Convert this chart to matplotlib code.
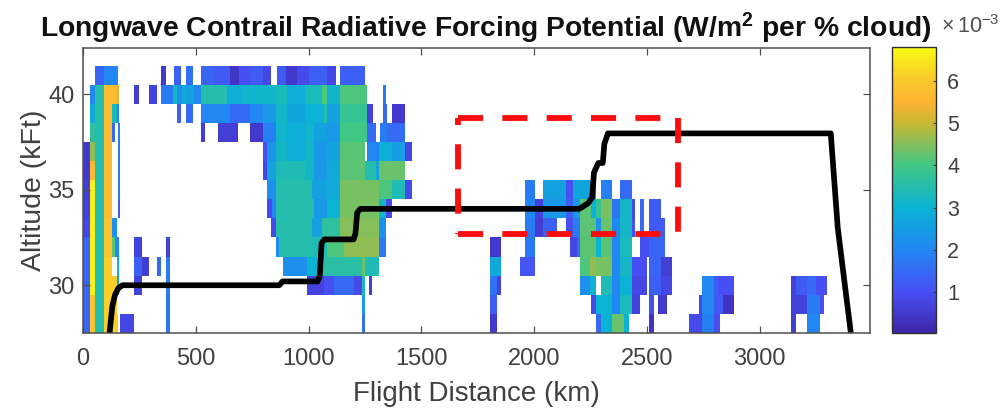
import numpy as np
import matplotlib
matplotlib.use("Agg")
import matplotlib.pyplot as plt
from matplotlib.colors import LinearSegmentedColormap

plt.rcParams["font.family"] = ["Liberation Sans", "DejaVu Sans"]
plt.rcParams["mathtext.fontset"] = "custom"
plt.rcParams["mathtext.bf"] = "Liberation Sans:bold"
plt.rcParams["mathtext.rm"] = "Liberation Sans"

W, H = 1003, 411

# forcing potential, one list per altitude (kft): (from km, to km, value x 1e-3)
row_41 = [(55, 95, 1.4), (95, 155, 2.0), (347, 366, 0.5), (403, 436, 1.3), (458, 489, 1.6),
          (524, 580, 1.4), (580, 654, 1.2), (654, 691, 0.4), (691, 743, 1.0), (743, 800, 1.2),
          (800, 835, 0.8), (860, 900, 1.2), (900, 950, 0.5), (950, 1000, 0.9), (1000, 1080, 1.3),
          (1080, 1120, 0.8), (1140, 1253, 1.3)]
row_40 = [(30, 55, 2.0), (55, 95, 3.5), (95, 150, 5.7), (150, 160, 5.2), (228, 248, 0.6),
          (292, 329, 0.7), (347, 400, 1.8), (400, 418, 3.2), (418, 440, 2.2), (440, 458, 2.8),
          (458, 492, 2.6), (492, 524, 2.0), (524, 640, 3.5), (640, 700, 2.9), (700, 854, 3.1),
          (854, 906, 3.3), (906, 987, 2.9), (987, 1061, 3.3), (1061, 1083, 4.1), (1083, 1140, 3.1),
          (1140, 1258, 4.1), (1330, 1345, 1.8)]
row_39 = [(30, 55, 2.8), (55, 95, 3.5), (95, 130, 5.7), (130, 150, 3.3), (150, 160, 1.8),
          (418, 436, 1.3), (458, 489, 1.5), (524, 650, 2.0), (650, 743, 1.5), (743, 800, 2.0),
          (800, 854, 2.4), (854, 906, 3.2), (906, 987, 2.7), (987, 1068, 3.0), (1068, 1083, 3.5),
          (1083, 1140, 2.6), (1140, 1260, 3.8), (1260, 1285, 0.7), (1330, 1350, 1.5), (1372, 1431, 0.5)]
row_38 = [(30, 55, 3.7), (55, 95, 3.5), (95, 130, 5.7), (130, 145, 1.5), (155, 165, 1.8),
          (524, 543, 0.6), (598, 687, 0.6), (743, 800, 0.5), (800, 854, 1.9), (854, 906, 3.1),
          (906, 987, 2.9), (987, 1024, 3.1), (1024, 1083, 2.6), (1083, 1140, 2.4), (1140, 1260, 4.0),
          (1260, 1298, 1.5), (1316, 1350, 1.8), (1350, 1431, 1.5)]
row_37 = [(0, 33, 0.5), (33, 55, 4.6), (55, 95, 3.5), (95, 130, 5.7), (155, 165, 1.8),
          (799, 817, 1.0), (817, 854, 2.3), (854, 906, 3.2), (906, 987, 2.9), (987, 1024, 3.2),
          (1024, 1083, 2.4), (1083, 1140, 2.6), (1140, 1253, 4.2), (1261, 1312, 2.0),
          (1312, 1372, 2.9), (1372, 1431, 2.5), (1431, 1461, 0.8)]
row_36 = [(0, 33, 0.5), (33, 55, 5.6), (55, 95, 3.5), (95, 130, 5.7), (155, 165, 1.8),
          (799, 817, 0.8), (817, 854, 2.6), (854, 987, 3.4), (987, 1024, 3.2), (1024, 1083, 2.4),
          (1083, 1140, 2.8), (1140, 1253, 4.2), (1253, 1298, 3.5), (1298, 1312, 2.6), (1312, 1431, 4.3)]
row_35 = [(0, 33, 0.6), (33, 55, 6.6), (55, 95, 3.5), (95, 130, 5.7), (155, 165, 1.8),
          (817, 854, 2.2), (854, 1017, 3.5), (1017, 1083, 2.6), (1083, 1140, 2.8), (1140, 1312, 4.4),
          (1312, 1372, 4.1), (1372, 1431, 3.4), (1431, 1461, 0.9), (1958, 2004, 1.8), (2041, 2141, 2.6),
          (2141, 2175, 1.0), (2175, 2274, 2.7), (2296, 2344, 1.9), (2382, 2437, 1.5)]
row_34 = [(0, 33, 0.7), (33, 55, 6.6), (55, 95, 3.5), (95, 130, 5.7), (155, 165, 1.2),
          (817, 840, 0.9), (840, 854, 2.0), (854, 1024, 3.5), (1024, 1083, 2.4), (1083, 1140, 3.0),
          (1140, 1312, 4.4), (1312, 1342, 3.2), (1342, 1372, 0.9), (1958, 2004, 2.0), (2004, 2041, 0.7),
          (2041, 2141, 2.4), (2141, 2175, 1.3), (2175, 2207, 2.4), (2207, 2252, 4.2), (2252, 2274, 3.0),
          (2274, 2296, 3.8), (2296, 2344, 4.4), (2344, 2382, 1.7), (2382, 2437, 3.2), (2437, 2450, 0.8),
          (2473, 2488, 1.5), (2510, 2565, 1.2)]
row_33 = [(0, 33, 0.8), (33, 55, 6.6), (55, 95, 3.5), (95, 130, 5.9), (130, 150, 2.2),
          (835, 854, 0.9), (854, 1017, 3.5), (1017, 1061, 2.6), (1061, 1140, 3.7), (1140, 1312, 4.5),
          (1312, 1342, 2.2), (1958, 2004, 1.8), (2004, 2041, 0.6), (2041, 2104, 1.3), (2141, 2175, 1.0),
          (2175, 2207, 1.8), (2207, 2274, 4.2), (2274, 2296, 2.2), (2296, 2344, 4.3), (2344, 2382, 2.0),
          (2382, 2437, 3.2), (2437, 2450, 1.0), (2473, 2488, 1.5), (2510, 2580, 1.2)]
row_32 = [(0, 33, 1.4), (33, 55, 6.6), (55, 95, 3.5), (95, 130, 5.9), (130, 145, 4.2),
          (145, 160, 2.0), (228, 262, 0.7), (366, 384, 0.6), (854, 869, 2.0), (869, 1017, 3.5),
          (1017, 1083, 3.4), (1083, 1157, 4.1), (1157, 1312, 4.6), (1312, 1342, 1.8), (1805, 1855, 0.5),
          (1958, 2004, 1.8), (2160, 2190, 0.8), (2190, 2207, 1.5), (2207, 2274, 4.2), (2274, 2296, 3.0),
          (2296, 2344, 4.2), (2344, 2382, 2.0), (2382, 2437, 3.3), (2473, 2510, 1.0), (2510, 2580, 1.4)]
row_31 = [(0, 33, 1.4), (33, 55, 6.6), (55, 95, 3.5), (95, 130, 6.1), (150, 160, 3.0),
          (228, 262, 1.3), (262, 292, 0.6), (329, 347, 1.5), (366, 384, 1.8), (887, 995, 2.2),
          (995, 1046, 3.0), (1046, 1239, 3.6), (1239, 1253, 4.3), (1253, 1312, 3.4), (1805, 1855, 2.8),
          (1941, 2004, 1.1), (2207, 2250, 4.1), (2250, 2274, 4.6), (2274, 2296, 4.4), (2296, 2344, 4.4),
          (2344, 2382, 2.0), (2382, 2437, 3.2), (2437, 2500, 1.0), (2510, 2565, 1.4), (2565, 2614, 0.6)]
row_30 = [(0, 33, 1.4), (33, 55, 6.6), (55, 95, 3.5), (95, 150, 6.1), (150, 160, 2.5),
          (228, 262, 0.7), (366, 384, 1.8), (995, 1068, 0.7), (1068, 1113, 1.0), (1113, 1202, 1.5),
          (1202, 1239, 0.9), (1239, 1253, 3.3), (1268, 1283, 0.6), (1805, 1835, 1.6), (1835, 1855, 0.7),
          (2207, 2250, 2.2), (2250, 2274, 3.0), (2296, 2344, 3.4), (2344, 2382, 2.0), (2382, 2437, 3.0),
          (2437, 2500, 0.8), (2510, 2565, 1.3), (2565, 2614, 0.8), (2747, 2799, 2.0), (2799, 2814, 1.3),
          (2814, 2887, 1.0), (3139, 3161, 0.7), (3161, 3213, 1.2), (3213, 3250, 1.5), (3250, 3299, 1.0)]
row_29 = [(0, 33, 1.4), (33, 55, 6.0), (55, 95, 3.5), (95, 150, 6.1), (366, 384, 1.8),
          (1239, 1253, 2.5), (1805, 1835, 1.2), (2252, 2274, 0.9), (2274, 2344, 3.0), (2344, 2382, 2.0),
          (2382, 2437, 3.3), (2437, 2470, 0.7), (2510, 2530, 1.0), (2550, 2590, 0.5), (2732, 2747, 0.8),
          (2747, 2799, 2.0), (2799, 2836, 1.2), (2836, 2887, 0.35), (3139, 3213, 0.7), (3213, 3269, 1.8),
          (3269, 3287, 1.0)]
row_28 = [(0, 33, 1.4), (33, 55, 5.9), (55, 95, 3.5), (95, 155, 6.1), (165, 228, 0.8), (366, 384, 1.8),
          (1239, 1253, 1.6), (1805, 1835, 0.5), (2274, 2296, 1.5), (2296, 2344, 3.0), (2344, 2400, 4.3),
          (2400, 2420, 3.0), (2510, 2530, 0.4), (2688, 2747, 0.9), (2747, 2799, 1.9), (2799, 2825, 1.0),
          (3139, 3161, 0.6), (3213, 3269, 2.0)]

altitudes = [28, 29, 30, 31, 32, 33, 34, 35, 36, 37, 38, 39, 40, 41]
rows = [row_28, row_29, row_30, row_31, row_32, row_33, row_34,
        row_35, row_36, row_37, row_38, row_39, row_40, row_41]

# flight path
path_km = [118, 122, 130, 142, 157, 175, 870, 885, 1040, 1050, 1058, 1070, 1200, 1208, 1216, 1230, 2200,
           2215, 2240, 2258, 2266, 2285, 2305, 2312, 2328, 3316, 3347, 3405]
path_alt = [27.5, 28.0, 28.9, 29.5, 29.85, 30.0, 30.0, 30.2, 30.2, 30.5, 32.2, 32.4, 32.4, 32.7, 33.8, 34.0, 34.0,
            34.1, 34.3, 34.6, 35.9, 36.4, 36.4, 37.4, 37.95, 37.95, 33.0, 27.5]

vmin, vmax = 0.03, 6.8

# parula look from the colorbar, anchored on the value where each colour sits
anchor_vals = [0.03, 1, 2, 3, 4, 5, 5.5, 6, 6.8]
anchor_cols = [(0.2422, 0.1504, 0.6603), (0.28, 0.31, 0.96), (0.13, 0.53, 0.95),
               (0.04, 0.70, 0.83), (0.25, 0.78, 0.52), (0.78, 0.72, 0.20),
               (1.0, 0.70, 0.20), (0.98, 0.78, 0.17), (0.977, 0.984, 0.08)]
parula = LinearSegmentedColormap.from_list(
    "parula", [((v - vmin) / (vmax - vmin), c) for v, c in zip(anchor_vals, anchor_cols)])

x_edges = np.arange(0, 3500, 2.0)
y_edges = np.arange(27.5, 42.5, 1.0)
grid = np.full((len(altitudes), len(x_edges) - 1), np.nan)
for i, row in enumerate(rows):
    for start, end, val in row:
        grid[i, int(start / 2):int(end / 2)] = val

fig = plt.figure(figsize=(W / 100, H / 100), dpi=100)
ax = fig.add_axes([83 / W, 1 - 333 / H, (870 - 83) / W, (333 - 48) / H])

mesh = ax.pcolormesh(x_edges, y_edges, grid, cmap=parula, vmin=vmin, vmax=vmax, rasterized=True)
ax.plot(path_km, path_alt, color="black", lw=4.1, solid_joinstyle="round")

# red box, one stroke per side
red = "#fb0d0d"
dash = (4.3, 3.3)
x0, x1 = 1661, 2637
y0, y1 = 32.7, 38.75
ax.plot([x0, x1], [y1, y1], color=red, lw=4.2, ls=(0, dash), dash_capstyle="butt")
ax.plot([x1, x1], [y1, y0], color=red, lw=4.2, ls=(0, dash), dash_capstyle="butt")
ax.plot([x0, x1], [y0, y0], color=red, lw=4.2, ls=(0, dash), dash_capstyle="butt")
ax.plot([x0, x0], [y1, y0], color=red, lw=4.2, ls=(3.1, dash), dash_capstyle="butt")

ax.set_xlim(0, 3490)
ax.set_ylim(27.5, 42.42)
ax.set_xticks([0, 500, 1000, 1500, 2000, 2500, 3000])
ax.set_yticks([30, 35, 40])
ax.tick_params(axis="x", pad=11)
ax.tick_params(direction="in", length=5, width=0.9, color="#505050", labelcolor="#404040",
               labelsize=17, top=True, right=True)
ax.tick_params(axis="y", pad=6)
for s in ax.spines.values():
    s.set_color("#505050")
    s.set_linewidth(1.1)

ax.set_xlabel("Flight Distance (km)", fontsize=20, color="#404040", labelpad=8)
ax.set_ylabel("Altitude (kFt)", fontsize=20.5, color="#404040", labelpad=1)
fig.text(40 / W, 1 - 28 / H, r"Longwave Contrail Radiative Forcing Potential (W/m$\mathbf{^2}$ per % cloud)",
         fontsize=20.3, fontweight="bold", color="#111111", ha="left", va="center")

# colorbar
cax = fig.add_axes([892 / W, 1 - 333 / H, (936 - 892) / W, (333 - 47) / H])
cb = fig.colorbar(mesh, cax=cax)
cb.set_ticks([1, 2, 3, 4, 5, 6])
cb.ax.tick_params(direction="in", length=2, width=0.8, color="#404040", labelcolor="#404040",
                  labelsize=15.5, pad=8)
cb.outline.set_edgecolor("#303030")
cb.outline.set_linewidth(1.0)
fig.text(941 / W, 1 - 27 / H, r"$\times\,\mathrm{10^{-3}}$", fontsize=15.5, color="#505050", ha="left", va="center")

fig.savefig("out.png", dpi=100)
